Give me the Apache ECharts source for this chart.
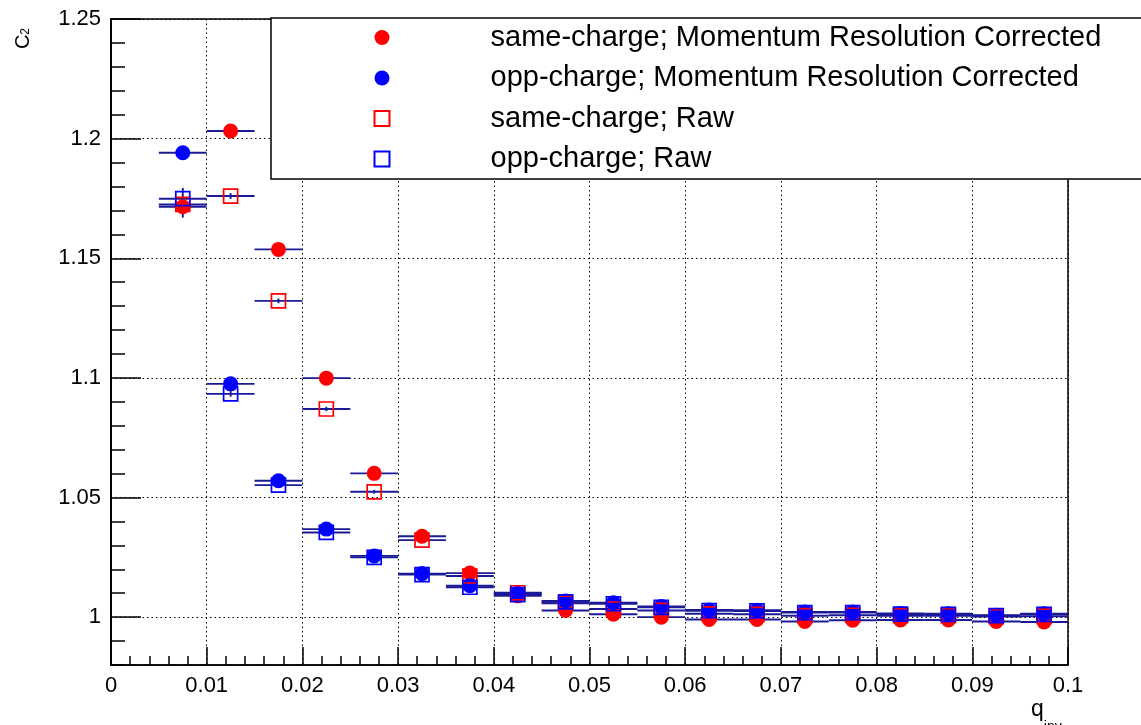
<!DOCTYPE html>
<html><head><meta charset="utf-8">
<script src="https://cdn.jsdelivr.net/npm/echarts@6/dist/echarts.min.js"></script>
<style>html,body{margin:0;padding:0;background:#fff}#c{width:1141px;height:725px}</style>
</head><body><div id="c"></div>
<script>
// ---- data ----
const qCenters = [0.0075,0.0125,0.0175,0.0225,0.0275,0.0325,0.0375,0.0425,0.0475,0.0525,0.0575,0.0625,0.0675,0.0725,0.0775,0.0825,0.0875,0.0925,0.0975];
const binHalfWidth = 0.0025;
const sameCorr = [1.1715,1.2032,1.1537,1.0999,1.0601,1.0338,1.0184,1.0089,1.0028,1.0012,1.0000,0.9990,0.9990,0.9982,0.9987,0.9988,0.9988,0.9982,0.9980];
const sameCorrErr = [0.0045,0.0015,0.0012,0.0010,0.0009,0.0008,0.0007,0.0007,0.0006,0.0006,0.0006,0.0006,0.0006,0.0006,0.0006,0.0006,0.0006,0.0006,0.0006];
const oppCorr = [1.1941,1.0975,1.0570,1.0368,1.0256,1.0182,1.0131,1.0099,1.0068,1.0060,1.0045,1.0030,1.0029,1.0022,1.0022,1.0015,1.0014,1.0008,1.0014];
const oppCorrErr = [0.0015,0.0012,0.0010,0.0009,0.0008,0.0007,0.0007,0.0006,0.0006,0.0006,0.0006,0.0006,0.0006,0.0006,0.0006,0.0006,0.0006,0.0006,0.0006];
const sameRaw = [1.1725,1.1760,1.1322,1.0870,1.0524,1.0322,1.0172,1.0102,1.0058,1.0034,1.0028,1.0014,1.0012,1.0006,1.0008,1.0006,1.0006,1.0002,1.0004];
const sameRawErr = [0.0030,0.0012,0.0010,0.0009,0.0008,0.0007,0.0006,0.0006,0.0006,0.0005,0.0005,0.0005,0.0005,0.0005,0.0005,0.0005,0.0005,0.0005,0.0005];
const oppRaw = [1.1749,1.0933,1.0552,1.0354,1.0250,1.0178,1.0125,1.0094,1.0064,1.0056,1.0041,1.0027,1.0026,1.0019,1.0019,1.0013,1.0012,1.0006,1.0012];
const oppRawErr = [0.0045,0.0012,0.0010,0.0009,0.0008,0.0007,0.0006,0.0006,0.0006,0.0005,0.0005,0.0005,0.0005,0.0005,0.0005,0.0005,0.0005,0.0005,0.0005];
const seriesNames = ['same-charge; Momentum Resolution Corrected','opp-charge; Momentum Resolution Corrected','same-charge; Raw','opp-charge; Raw'];
const xTickValues = [0,0.01,0.02,0.03,0.04,0.05,0.06,0.07,0.08,0.09,0.1];
const xTickLabels = ['0','0.01','0.02','0.03','0.04','0.05','0.06','0.07','0.08','0.09','0.1'];
const yTickValues = [1,1.05,1.1,1.15,1.2,1.25];
const yTickLabels = ['1','1.05','1.1','1.15','1.2','1.25'];

// ---- styling ----
const FONT = 'Liberation Sans, Arial, Helvetica, sans-serif';
const barColor = '#1a1a96';
const RED = '#ff0000', BLUE = '#0000ff';
const SQUARE = 'path://M0 0H10V10H0Z';

function pts(vals, errs){ return qCenters.map((q,i)=>[q, vals[i], errs[i]]); }

function errRender(params, api){
  const x = api.value(0), y = api.value(1), e = api.value(2);
  const pL = api.coord([x - binHalfWidth, y]), pR = api.coord([x + binHalfWidth, y]);
  const pT = api.coord([x, y + e]), pB = api.coord([x, y - e]);
  const st = {stroke: barColor, lineWidth: 1.9};
  return {type:'group', children:[
    {type:'line', shape:{x1:pL[0],y1:pL[1],x2:pR[0],y2:pR[1]}, style:st},
    {type:'line', shape:{x1:pT[0],y1:pT[1],x2:pB[0],y2:pB[1]}, style:st}
  ]};
}
function errSeries(vals, errs){
  return {type:'custom', renderItem: errRender, data: pts(vals, errs), encode:{x:0,y:1}, silent:true};
}
function markSeries(name, vals, errs, filled, color){
  return {
    type:'scatter', name: name, data: pts(vals, errs),
    symbol: filled ? 'circle' : SQUARE, symbolKeepAspect:true,
    symbolSize: filled ? 15 : 14,
    itemStyle: filled ? {color: color, opacity:1} : {color:'rgba(0,0,0,0)', borderColor: color, borderWidth: 1.7, opacity:1},
    encode:{x:0,y:1}, silent:true
  };
}

const chart = echarts.init(document.getElementById('c'), null, {renderer:'canvas'});
chart.setOption({
  backgroundColor:'#fff',
  animation:false,
  grid:{left:111, right:73, top:19, bottom:60, containLabel:false, outerBoundsMode:'none',
    show:true, borderColor:'#000', borderWidth:1.5, backgroundColor:'#fff'},
  xAxis:{
    type:'value', min:0, max:0.1, interval:0.01,
    name:'{a|q}{b|inv}', nameLocation:'end', nameGap:-37, nameMoveOverlap:false,
    nameTextStyle:{align:'left', verticalAlign:'top', padding:[20,0,0,0],
      rich:{a:{fontSize:23, fontFamily:FONT, color:'#000'}, b:{fontSize:14, fontFamily:FONT, color:'#000', padding:[35,0,0,0]}}},
    axisLine:{lineStyle:{color:'#000', width:1.5}},
    axisTick:{inside:true, length:18, lineStyle:{color:'#000', width:1.5}},
    minorTick:{show:true, splitNumber:5, length:9, lineStyle:{color:'#000', width:1.5}},
    splitLine:{show:true, lineStyle:{color:'#000', width:1, type:[1.5,3]}},
    axisLabel:{margin:10, fontSize:22, fontFamily:FONT, color:'#000',
      formatter:(v)=>xTickLabels[xTickValues.findIndex(t=>Math.abs(t-v)<1e-9)] ?? ''}
  },
  yAxis:[{
    type:'value', min:0.98, max:1.25, interval:0.01, position:'left',
    axisLine:{lineStyle:{color:'#000', width:1.5}},
    axisTick:{inside:true, length:14, lineStyle:{color:'#000', width:1.5}},
    axisLabel:{show:false}, splitLine:{show:false}
  },{
    type:'value', min:0.98, max:1.25, position:'left', offset:0,
    name:'{a|C}{b|2}', nameLocation:'end', nameGap:-9, nameRotate:90, nameMoveOverlap:false,
    nameTextStyle:{align:'right', verticalAlign:'bottom', padding:[0,0,78,0],
      rich:{a:{fontSize:20, fontFamily:FONT, color:'#000'}, b:{fontSize:12, fontFamily:FONT, color:'#000', padding:[6,0,0,0]}}},
    axisLine:{show:true, lineStyle:{color:'#000', width:1.5}},
    axisTick:{inside:true, length:30, customValues: yTickValues, lineStyle:{color:'#000', width:1.5}},
    axisLabel:{margin:10, fontSize:22, fontFamily:FONT, color:'#000', customValues: yTickValues,
      formatter:(v)=>yTickLabels[yTickValues.findIndex(t=>Math.abs(t-v)<1e-9)] ?? ''},
    splitLine:{show:true, lineStyle:{color:'#000', width:1, type:[1.5,3]}}
  }],
  legend:{
    orient:'vertical', left:373.5, top:22.5, padding:0, itemGap:10.5,
    itemWidth:15, itemHeight:15, symbolKeepAspect:true, z:20,
    data: seriesNames,
    textStyle:{fontSize:29, fontFamily:FONT, color:'#000', lineHeight:30, padding:[0,0,0,96]}
  },
  graphic:[{type:'rect', z:15, shape:{x:271, y:18, width:900, height:161},
    style:{fill:'#fff', stroke:'#000', lineWidth:1.5}}],
  series:[
    errSeries(sameCorr, sameCorrErr), markSeries(seriesNames[0], sameCorr, sameCorrErr, true, RED),
    errSeries(oppCorr, oppCorrErr), markSeries(seriesNames[1], oppCorr, oppCorrErr, true, BLUE),
    errSeries(sameRaw, sameRawErr), markSeries(seriesNames[2], sameRaw, sameRawErr, false, RED),
    errSeries(oppRaw, oppRawErr), markSeries(seriesNames[3], oppRaw, oppRawErr, false, BLUE)
  ]
});
</script></body></html>
